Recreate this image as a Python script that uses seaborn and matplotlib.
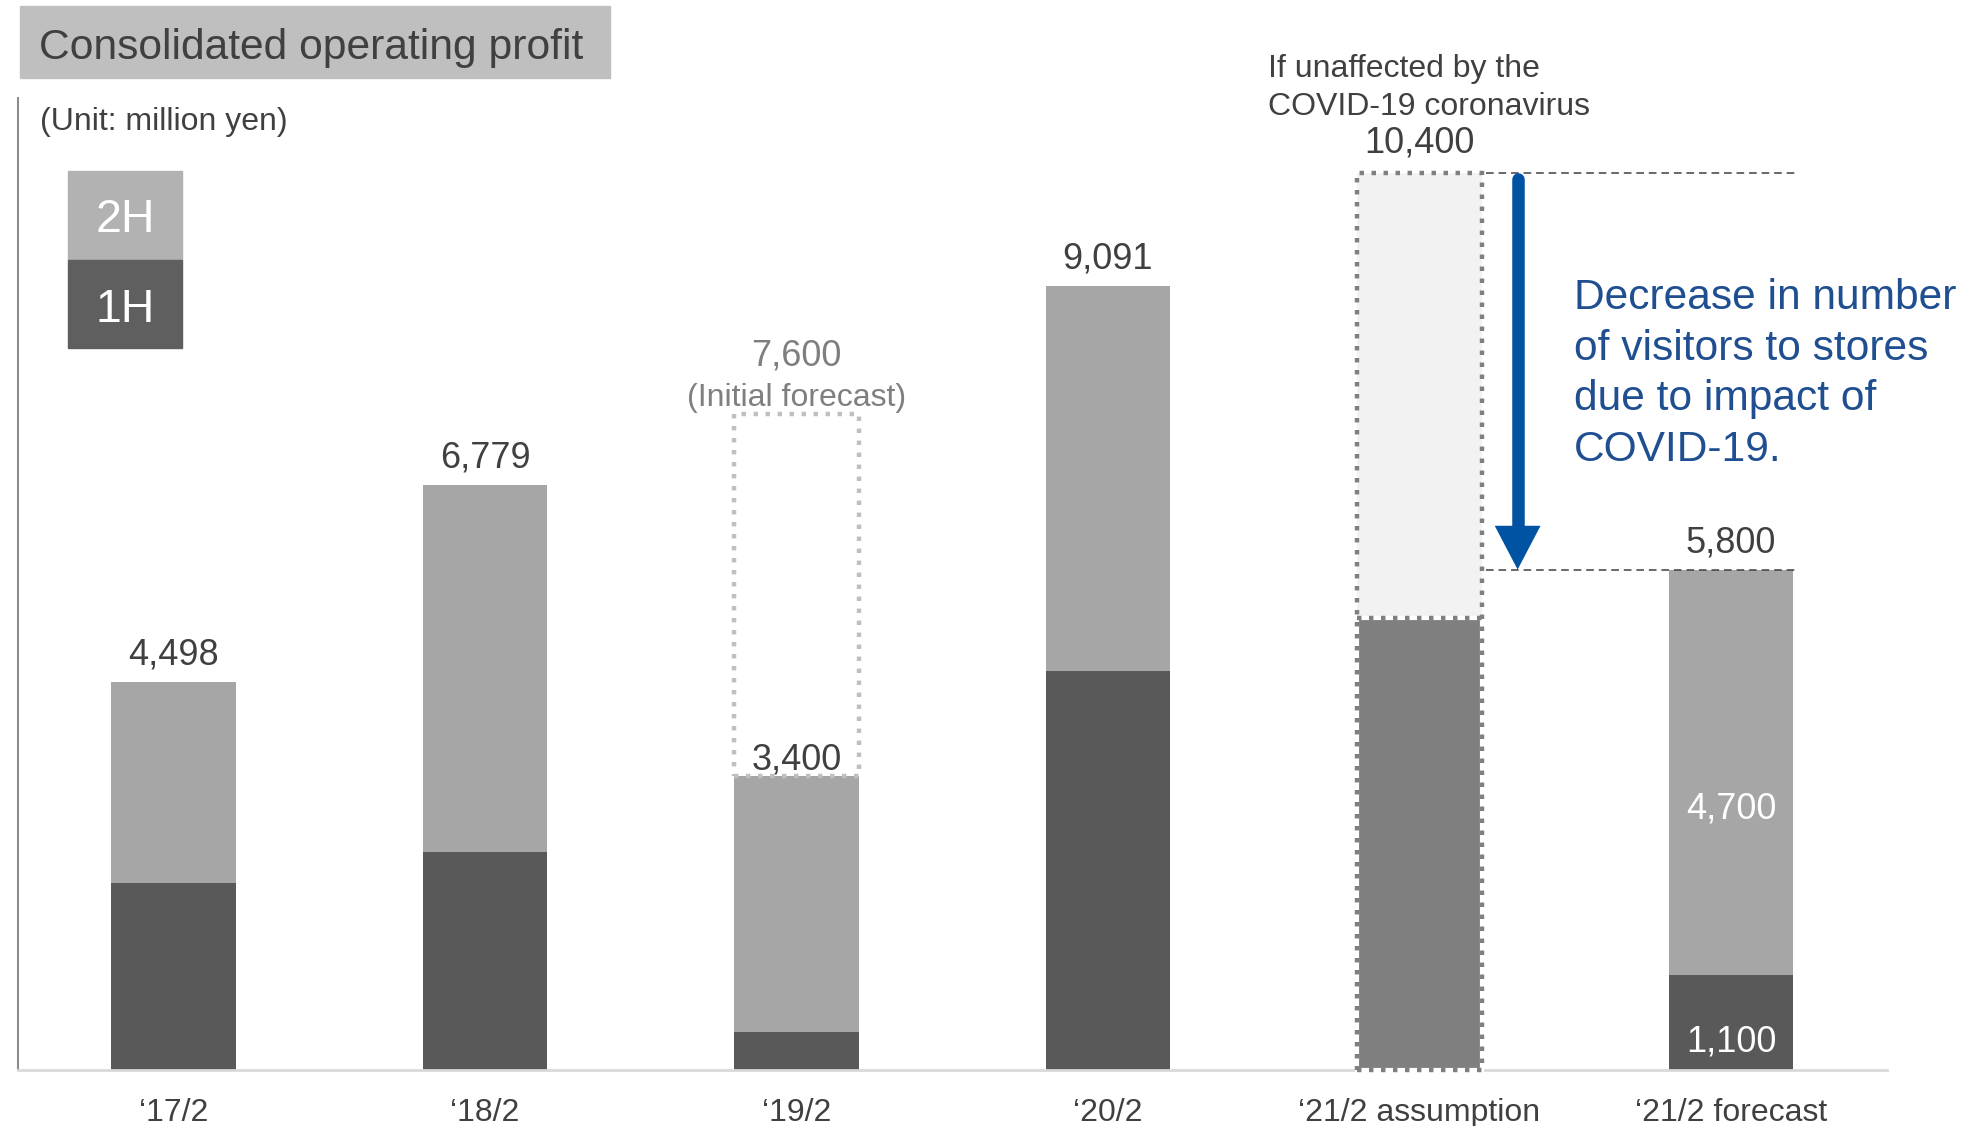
import matplotlib
matplotlib.use("Agg")
import matplotlib.pyplot as plt
import seaborn as sns
import pandas as pd
from matplotlib.patches import Rectangle

# ---- data (million yen) ----
periods = ["‘17/2", "‘18/2", "‘19/2", "‘20/2", "‘21/2 assumption", "‘21/2 forecast"]
total_profit = [4498, 6779, 3400, 9091, 10400, 5800]
first_half = [2160, 2520, 430, 4620, 5240, 1100]
initial_forecast_19 = 7600
legend_labels = ["2H", "1H"]
blue_note = ["Decrease in number", "of visitors to stores", "due to impact of", "COVID-19."]
unaffected_note = ["If unaffected by the", "COVID-19 coronavirus"]

second_half = [t - f for t, f in zip(total_profit, first_half)]

sns.set_theme(style="white")
plt.rcParams["font.family"] = ["Liberation Sans", "DejaVu Sans"]

W, H = 1969, 1126
fig = plt.figure(figsize=(W / 100, H / 100), dpi=100)


def fx(px):
    return px / W


def fy(py):
    return 1 - py / H


DARK = "#404040"
GREY_TXT = "#7f7f7f"
C2H = "#a6a6a6"
C1H = "#595959"
ASSUME_TOP = "#f2f2f2"
ASSUME_LOW = "#7f7f7f"
BLUE_TXT = "#1f4e91"
BLUE_ARW = "#0053a2"
DOTS = (0, (1, 1.7))

base_px = 1069.5
ax = fig.add_axes([fx(17.75), fy(base_px), 1869 / W, (base_px - 98) / H])

df = pd.DataFrame({"period": periods, "total": total_profit, "h1": first_half})
assume = periods[4]
top_pal = {p: (ASSUME_TOP if p == assume else C2H) for p in periods}
low_pal = {p: (ASSUME_LOW if p == assume else C1H) for p in periods}

bw = 0.4
sns.barplot(data=df, x="period", y="total", hue="period", palette=top_pal,
            order=periods, hue_order=periods, width=bw, saturation=1,
            legend=False, errorbar=None, linewidth=0, ax=ax, zorder=2)
sns.barplot(data=df, x="period", y="h1", hue="period", palette=low_pal,
            order=periods, hue_order=periods, width=bw, saturation=1,
            legend=False, errorbar=None, linewidth=0, ax=ax, zorder=2)

ax.set_xlim(-0.5, 5.5)
ax.set_ylim(0, 11270)
ax.set_xlabel("")
ax.set_ylabel("")
ax.set_yticks([])
ax.set_xticks(range(len(periods)))
ax.set_xticklabels(periods)
ax.tick_params(axis="x", length=0, pad=20.5, labelsize=23, labelcolor=DARK)
for s in ("top", "right"):
    ax.spines[s].set_visible(False)
ax.spines["left"].set_color("#8c8c8c")
ax.spines["left"].set_linewidth(1.5)
ax.spines["bottom"].set_color("#d9d9d9")
ax.spines["bottom"].set_linewidth(2)

# '21/2 assumption: dotted outlines
ia = 4
ax.bar(ia, first_half[ia], width=bw, fill=False, edgecolor="white", linewidth=3.0,
       zorder=3, clip_on=False)
ax.bar(ia, total_profit[ia], width=bw, fill=False, edgecolor=ASSUME_LOW, linewidth=3.2,
       linestyle=DOTS, zorder=4, clip_on=False)
ax.plot([ia - bw / 2, ia + bw / 2], [first_half[ia]] * 2, color=ASSUME_LOW, lw=3.2,
        linestyle=DOTS, zorder=4, solid_capstyle="butt")

# '19/2 initial forecast box
i19 = 2
ax.bar(i19, initial_forecast_19 - total_profit[i19], bottom=total_profit[i19], width=bw,
       fill=False, edgecolor="#bfbfbf", linewidth=3.2, linestyle=DOTS, zorder=4)

# dashed reference lines from assumption to forecast
ifc = 5
for lvl in (total_profit[ia], total_profit[ifc]):
    ax.plot([ia + bw / 2 + 0.015, ifc + bw / 2 + 0.01], [lvl, lvl], color=DARK, lw=1.1,
            linestyle=(0, (5, 3.2)), zorder=3)

# downward arrow
xa = 4.315
ax.plot([xa, xa], [total_profit[ia] - 70, total_profit[ifc] + 400], color=BLUE_ARW, lw=9,
        solid_capstyle="round", zorder=5)
ax.annotate("", xy=(xa, total_profit[ifc]), xytext=(xa, total_profit[ifc] + 520),
            arrowprops=dict(arrowstyle="-|>,head_length=2.1,head_width=1.1",
                            mutation_scale=15, lw=0, color=BLUE_ARW,
                            shrinkA=0, shrinkB=0), zorder=6)

# value labels
px2pt = 0.72
label_gap = {2: 7, 4: 20}
for i, v in enumerate(total_profit):
    ax.annotate(f"{v:,}", xy=(i, v), xytext=(0, label_gap.get(i, 17.5) * px2pt),
                textcoords="offset points", ha="center", va="baseline",
                fontsize=26, color=DARK, zorder=7)

ax.annotate(f"{initial_forecast_19:,}", xy=(i19, initial_forecast_19),
            xytext=(0, 49 * px2pt), textcoords="offset points", ha="center",
            va="baseline", fontsize=26, color=GREY_TXT)
ax.annotate("(Initial forecast)", xy=(i19, initial_forecast_19),
            xytext=(0, 8 * px2pt), textcoords="offset points", ha="center",
            va="baseline", fontsize=23, color=GREY_TXT)

# half-year values inside the forecast bar
ax.text(ifc, first_half[ifc] + 0.386 * second_half[ifc], f"{second_half[ifc]:,}",
        ha="center", va="baseline", fontsize=26, color="white", zorder=7)
ax.text(ifc, 0.19 * first_half[ifc], f"{first_half[ifc]:,}",
        ha="center", va="baseline", fontsize=26, color="white", zorder=7)

# title banner
fig.patches.append(Rectangle((fx(20), fy(78)), (610 - 20) / W, (78 - 6) / H,
                             transform=fig.transFigure, color="#bfbfbf", zorder=0))
fig.text(fx(39), fy(59), "Consolidated operating profit", fontsize=30.7, color=DARK,
         va="baseline", ha="left")
fig.text(fx(40), fy(130), "(Unit: million yen)", fontsize=23, color=DARK,
         va="baseline", ha="left")

# legend blocks
fig.patches.append(Rectangle((fx(67.7), fy(260)), (182.4 - 67.7) / W, (260 - 171) / H,
                             transform=fig.transFigure, color="#b2b2b2"))
fig.patches.append(Rectangle((fx(67.7), fy(348)), (182.4 - 67.7) / W, (348 - 260) / H,
                             transform=fig.transFigure, color="#5f5f5f"))
fig.text(fx(125), fy(232.5), legend_labels[0], fontsize=33.5, color="white", ha="center",
         va="baseline")
fig.text(fx(125), fy(322), legend_labels[1], fontsize=33.5, color="white", ha="center",
         va="baseline")

# notes
for line, base in zip(unaffected_note, (76.7, 115)):
    fig.text(fx(1268), fy(base), line, fontsize=23, color=DARK, ha="left", va="baseline")
for line, base in zip(blue_note, (309, 360, 410, 461)):
    fig.text(fx(1574), fy(base), line, fontsize=30.6, color=BLUE_TXT, ha="left", va="baseline")

fig.savefig("out.png", dpi=100)
